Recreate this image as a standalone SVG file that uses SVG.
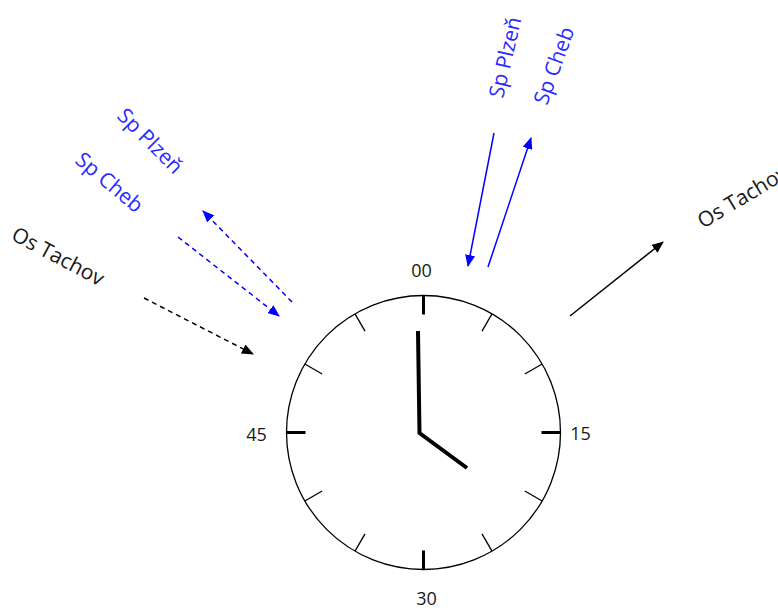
<svg xmlns="http://www.w3.org/2000/svg" width="778" height="609" viewBox="0 0 778 609">
<style>
text{font-family:"Open Sans","Liberation Sans",sans-serif;font-size:18px}
.big{font-size:21px}
.blk{fill:#1a1a1a}
.blu{fill:#2a2aff}
.lb{stroke:#0000ff;stroke-width:1.5;fill:none}
.lk{stroke:#000;stroke-width:1.5;fill:none}
.d{stroke-dasharray:5 4}
.minor{stroke:#000;stroke-width:1.3}
.major{stroke:#000;stroke-width:3}
.hand{stroke:#000;stroke-width:4;fill:none;stroke-linecap:butt}
</style>
<defs>
<marker id="ab" markerWidth="12" markerHeight="10" refX="11" refY="5" orient="auto" markerUnits="userSpaceOnUse"><path d="M0,0 L12,5 L0,10 Z" fill="#0000ff"/></marker>
<marker id="ak" markerWidth="12" markerHeight="10" refX="11" refY="5" orient="auto" markerUnits="userSpaceOnUse"><path d="M0,0 L12,5 L0,10 Z" fill="#000"/></marker>
</defs>
<rect width="778" height="609" fill="#fff"/>
<g id="clock">
<circle cx="423.5" cy="432.5" r="137" fill="#fff" stroke="#000" stroke-width="1.3"/>
<g transform="translate(423.5,432.5)">
<line class="major" x1="0" y1="-137" x2="0" y2="-118"/>
<line class="major" x1="0" y1="-137" x2="0" y2="-118" transform="rotate(90)"/>
<line class="major" x1="0" y1="-137" x2="0" y2="-118" transform="rotate(180)"/>
<line class="major" x1="0" y1="-137" x2="0" y2="-118" transform="rotate(270)"/>
<line class="minor" x1="0" y1="-137" x2="0" y2="-117" transform="rotate(30)"/>
<line class="minor" x1="0" y1="-137" x2="0" y2="-117" transform="rotate(60)"/>
<line class="minor" x1="0" y1="-137" x2="0" y2="-117" transform="rotate(120)"/>
<line class="minor" x1="0" y1="-137" x2="0" y2="-117" transform="rotate(150)"/>
<line class="minor" x1="0" y1="-137" x2="0" y2="-117" transform="rotate(210)"/>
<line class="minor" x1="0" y1="-137" x2="0" y2="-117" transform="rotate(240)"/>
<line class="minor" x1="0" y1="-137" x2="0" y2="-117" transform="rotate(300)"/>
<line class="minor" x1="0" y1="-137" x2="0" y2="-117" transform="rotate(330)"/>
</g>
<polyline class="hand" points="418,331 419.5,433 467,468"/>
<text class="blk" x="421.5" y="277" text-anchor="middle">00</text>
<text class="blk" x="580.5" y="440" text-anchor="middle">15</text>
<text class="blk" x="426.5" y="605" text-anchor="middle">30</text>
<text class="blk" x="256.5" y="441" text-anchor="middle">45</text>
</g>
<g id="labels">
<text class="blu big" transform="translate(116,117) rotate(45)">Sp Plzeň</text>
<text class="blu big" transform="translate(74,162) rotate(40)">Sp Cheb</text>
<text class="blk big" transform="translate(10,239) rotate(28)">Os Tachov</text>
<text class="blu big" transform="translate(503,99) rotate(-77)">Sp Plzeň</text>
<text class="blu big" transform="translate(547,106) rotate(-70)">Sp Cheb</text>
<text class="blk big" transform="translate(703,229) rotate(-31)">Os Tachov</text>
</g>
<g id="connectors">
<line class="lb" x1="494" y1="133" x2="468" y2="266" marker-end="url(#ab)"/>
<line class="lb" x1="488" y1="267" x2="531" y2="138" marker-end="url(#ab)"/>
<line class="lk" x1="570" y1="316" x2="663" y2="242" marker-end="url(#ak)"/>
<line class="lb d" x1="292" y1="302" x2="203" y2="211" marker-end="url(#ab)"/>
<line class="lb d" x1="178" y1="237" x2="279" y2="316" marker-end="url(#ab)"/>
<line class="lk d" x1="144" y1="298" x2="253" y2="354" marker-end="url(#ak)"/>
</g>
</svg>
